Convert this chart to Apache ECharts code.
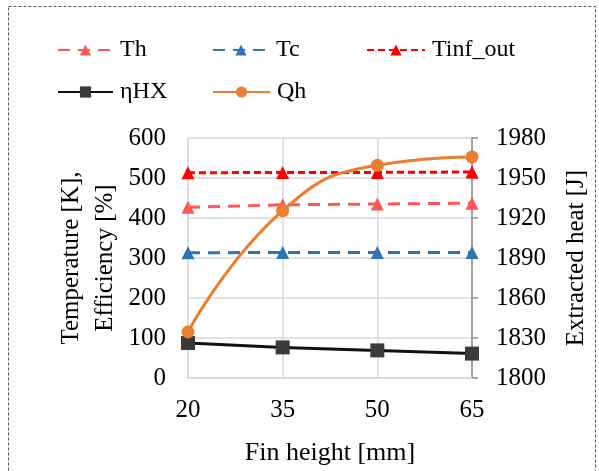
<!DOCTYPE html>
<html><head><meta charset="utf-8">
<script src="https://cdn.jsdelivr.net/npm/echarts@6/dist/echarts.min.js"></script>
<style>html,body{margin:0;padding:0;background:#fff}#c{width:599px;height:471px}</style>
</head><body><div id="c"></div>
<script>
const categories = ['20', '35', '50', '65'];
const Th = [427, 433, 435, 437];
const Tc = [313, 314, 314, 314];
const Tinf_out = [513, 514, 514, 515];
const etaHX = [87.5, 76.5, 69, 61];
const Qh = [1834.5, 1925.5, 1959.5, 1965.8];
const leftTicks = {min: 0, max: 600, interval: 100};
const rightTicks = {min: 1800, max: 1980, interval: 30};

const FONT = "'Liberation Serif', 'Times New Roman', serif";
const chart = echarts.init(document.getElementById('c'), null, {renderer: 'canvas'});
const txt = {fontFamily: FONT, fontSize: 25, color: '#000'};
const nameTxt = {fontFamily: FONT, fontSize: 26, color: '#000'};

function legend(name, left, top, w) {
  return {data: [name], left: left, top: top, itemWidth: w, itemHeight: 14, padding: 0,
    textStyle: {fontFamily: FONT, fontSize: 24, color: '#000', padding: [0, 0, 0, 2]}, selectedMode: false};
}

chart.setOption({
  animation: false,
  graphic: [{type: 'rect', shape: {x: 8.5, y: 6.5, width: 587, height: 480},
    style: {fill: 'none', stroke: '#555', lineWidth: 1, lineDash: [3, 2]}, silent: true, z: 100}],
  legend: [
    legend('Th', 57, 38, 55),
    legend('Tc', 212, 38, 56),
    legend('Tinf_out', 366, 38, 58),
    legend('ηHX', 57, 80, 55),
    legend('Qh', 212, 80, 57)
  ],
  grid: {left: 188, right: 127, top: 138, bottom: 93},
  xAxis: {
    type: 'category', data: categories, boundaryGap: false,
    name: 'Fin height [mm]', nameLocation: 'middle', nameGap: 62,
    nameTextStyle: nameTxt,
    axisLine: {lineStyle: {color: '#d9d9d9', width: 1.5}},
    axisTick: {show: false},
    axisLabel: Object.assign({}, txt, {margin: 20}),
    splitLine: {show: true, lineStyle: {color: '#d9d9d9', width: 1.5}}
  },
  yAxis: [{
    type: 'value', min: leftTicks.min, max: leftTicks.max, interval: leftTicks.interval,
    name: 'Temperature [K],\nEfficiency [%]', nameLocation: 'middle', nameGap: 66, nameRotate: 90,
    nameTextStyle: Object.assign({}, nameTxt, {fontSize: 25, lineHeight: 34}),
    axisLine: {show: true, lineStyle: {color: '#d9d9d9', width: 1.5}},
    axisTick: {show: false},
    axisLabel: Object.assign({}, txt, {margin: 22}),
    splitLine: {show: true, lineStyle: {color: '#d9d9d9', width: 1.5}}
  }, {
    type: 'value', min: rightTicks.min, max: rightTicks.max, interval: rightTicks.interval,
    name: 'Extracted heat [J]', nameLocation: 'middle', nameGap: 92, nameRotate: 90,
    nameTextStyle: Object.assign({}, nameTxt, {fontSize: 25}),
    axisLine: {show: true, lineStyle: {color: '#8c8c8c', width: 1.5}},
    axisTick: {show: true, length: 6, lineStyle: {color: '#8c8c8c', width: 1.5}},
    axisLabel: Object.assign({}, txt, {margin: 24, formatter: v => String(v)}),
    splitLine: {show: false}
  }],
  series: [
    {name: 'Th', type: 'line', data: Th, symbol: 'triangle', symbolSize: 13,
      itemStyle: {color: '#ff5757'}, lineStyle: {color: '#ff5757', width: 3, type: [12, 8]}},
    {name: 'Tc', type: 'line', data: Tc, symbol: 'triangle', symbolSize: 13,
      itemStyle: {color: '#2e75b6'}, lineStyle: {color: '#2e75b6', width: 3, type: [12, 8]}},
    {name: 'Tinf_out', type: 'line', data: Tinf_out, symbol: 'triangle', symbolSize: 13,
      itemStyle: {color: '#ff0000'}, lineStyle: {color: '#ff0000', width: 3, type: [7, 4]}},
    {name: 'ηHX', type: 'line', data: etaHX, symbol: 'rect', symbolSize: 14,
      itemStyle: {color: '#3a3a38'}, lineStyle: {color: '#111', width: 3}},
    {name: 'Qh', type: 'line', yAxisIndex: 1, data: Qh, symbol: 'circle', symbolSize: 13, smooth: 0.5,
      itemStyle: {color: '#ed7d31'}, lineStyle: {color: '#ed7d31', width: 3}}
  ]
});
</script></body></html>
